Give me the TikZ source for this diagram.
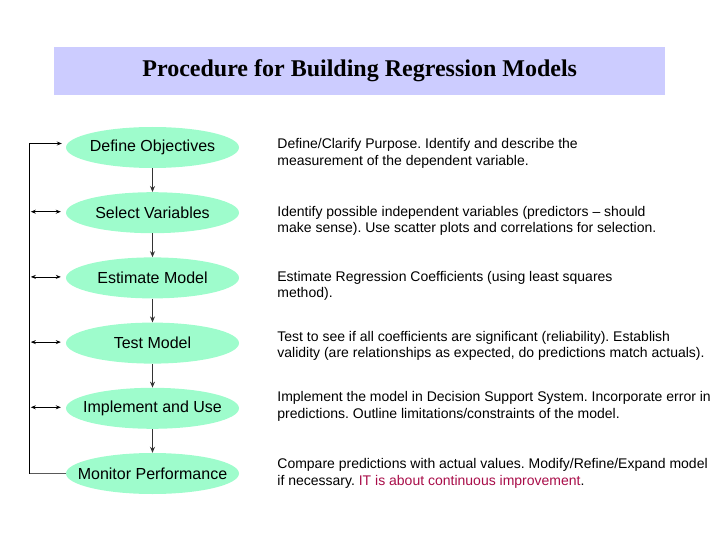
\documentclass[tikz,border=0pt]{standalone}
\usepackage{fontspec}
\setmainfont{Liberation Sans}
\newfontfamily\titlefont{Liberation Serif}
\usetikzlibrary{shapes.geometric,arrows.meta}
\definecolor{titleblue}{RGB}{204,204,255}
\definecolor{stepgreen}{RGB}{158,252,204}
\definecolor{notered}{RGB}{168,12,72}
\newcommand{\steptext}[1]{\makebox[0pt][c]{#1}}
\begin{document}
\frenchspacing
\begin{tikzpicture}[x=1pt,y=1pt]
\useasboundingbox (0,0) rectangle (720,-540);

\tikzstyle{stepnode} = [ellipse,minimum width=173pt,minimum height=41pt,inner sep=0pt,fill=stepgreen,font=\fontsize{16}{19}\selectfont];
\tikzstyle{notenode} = [anchor=north west,inner sep=0pt,align=left,font=\fontsize{14}{16.5}\selectfont];
\tikzstyle{downline} = [-{Stealth[length=6pt,width=5pt]},draw=black!80,line width=1pt];
\tikzstyle{sideline} = [{Stealth[length=5pt,width=4pt]}-{Stealth[length=5pt,width=4pt]},line width=0.8pt];

\node [fill=titleblue,minimum width=611pt,minimum height=48pt,anchor=north west,font=\titlefont\bfseries\fontsize{24}{28}\selectfont] (title) at (54,-47) {Procedure for Building Regression Models};

\node [stepnode] (def) at (152.5,-147.5) {\steptext{Define Objectives}};
\node [stepnode,anchor=north] (sel) at ([yshift=-23.8pt]def.south) {\steptext{Select Variables}};
\node [stepnode,anchor=north] (est) at ([yshift=-23.8pt]sel.south) {\steptext{Estimate Model}};
\node [stepnode,anchor=north] (test) at ([yshift=-23.8pt]est.south) {\steptext{Test Model}};
\node [stepnode,anchor=north] (impl) at ([yshift=-23.8pt]test.south) {\steptext{Implement and Use}};
\node [stepnode,anchor=north] (mon) at ([yshift=-23.8pt]impl.south) {\steptext{Monitor Performance}};

\draw [downline] (def.south) -- (sel.north);
\draw [downline] (sel.south) -- (est.north);
\draw [downline] (est.south) -- (test.north);
\draw [downline] (test.south) -- (impl.north);
\draw [downline] (impl.south) -- (mon.north);

\draw [draw=black!65,line width=0.8pt] (mon.west) -- ++(-36pt,0) coordinate (back);
\draw [sideline,{Stealth[length=5pt,width=4pt]}-] ([yshift=4pt,xshift=-4pt]def.west) -| (back);
\draw [sideline] ([yshift=1pt,xshift=-35pt]sel.west) -- ([yshift=1pt,xshift=-5pt]sel.west);
\draw [sideline] ([yshift=1pt,xshift=-35pt]est.west) -- ([yshift=1pt,xshift=-5pt]est.west);
\draw [sideline] ([yshift=1pt,xshift=-35pt]test.west) -- ([yshift=1pt,xshift=-5pt]test.west);
\draw [sideline] ([yshift=1pt,xshift=-35pt]impl.west) -- ([yshift=1pt,xshift=-5pt]impl.west);

\node [notenode] (n1) at ([xshift=38pt,yshift=9pt]def.east) {Define/Clarify Purpose. Identify and describe the\\measurement of the dependent variable.};
\node [notenode] (n2) at ([xshift=38pt,yshift=7pt]sel.east) {Identify possible independent variables (predictors -- should\\make sense). Use scatter plots and correlations for selection.};
\node [notenode] (n3) at ([xshift=38pt,yshift=7pt]est.east) {Estimate Regression Coefficients (using least squares\\method).};
\node [notenode] (n4) at ([xshift=38pt,yshift=12pt]test.east) {Test to see if all coefficients are significant (reliability). Establish\\validity (are relationships as expected, do predictions match actuals).};
\node [notenode] (n5) at ([xshift=38pt,yshift=17pt]impl.east) {Implement the model in Decision Support System. Incorporate error in\\predictions. Outline limitations/constraints of the model.};
\node [notenode] (n6) at ([xshift=38pt,yshift=15pt]mon.east) {Compare predictions with actual values. Modify/Refine/Expand model\\if necessary. \textcolor{notered}{IT is about continuous improvement}.};

\end{tikzpicture}
\end{document}
